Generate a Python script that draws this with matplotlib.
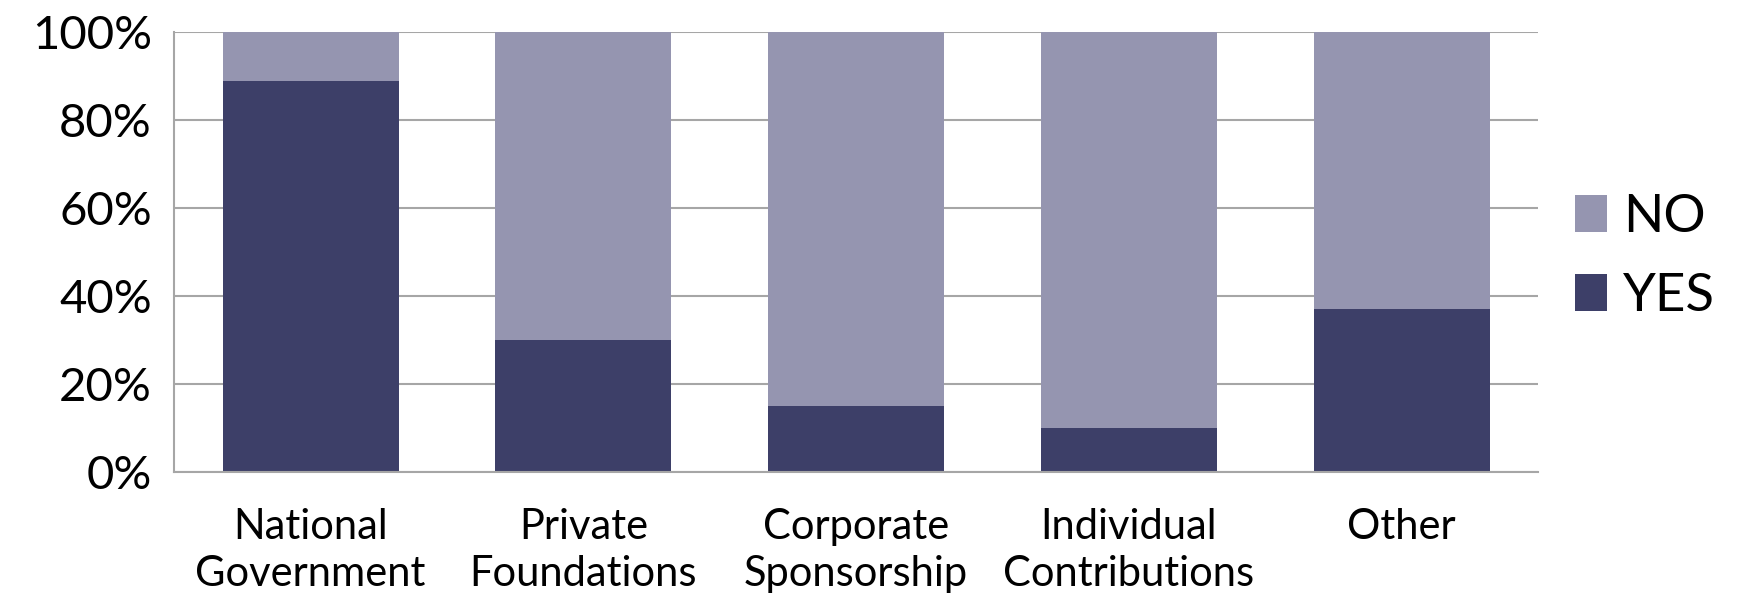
import matplotlib
matplotlib.use("Agg")
import matplotlib.pyplot as plt
import numpy as np
from matplotlib.ticker import PercentFormatter

categories = ["National\nGovernment", "Private\nFoundations", "Corporate\nSponsorship",
              "Individual\nContributions", "Other"]
yes_share = [89, 30, 15, 10, 37]
no_share = [100 - v for v in yes_share]

YES_COLOR = "#3D3F68"
NO_COLOR = "#9595B0"
GRID_COLOR = "#A6A6A6"

plt.rcParams["font.family"] = ["Lato", "DejaVu Sans"]

fig = plt.figure(figsize=(17.42, 5.98), dpi=100)
ax = fig.add_axes([0.100, 0.211, 0.783, 0.735])

x = np.arange(len(categories))
width = 0.645
ax.bar(x, yes_share, width, color=YES_COLOR, label="YES", zorder=2)
ax.bar(x, no_share, width, bottom=yes_share, color=NO_COLOR, label="NO", zorder=2)

ax.set_xlim(-0.5, len(categories) - 0.5)
ax.set_ylim(0, 100)
ax.set_yticks(range(0, 101, 20))
ax.yaxis.set_major_formatter(PercentFormatter(decimals=0))
ax.set_xticks(x)
ax.set_xticklabels(categories, fontsize=30, linespacing=1.3)
ax.tick_params(axis="y", labelsize=34, length=0, pad=16)
ax.tick_params(axis="x", length=0, pad=26)

ax.grid(axis="y", color=GRID_COLOR, linewidth=1.5, zorder=0)
for side in ["top", "right"]:
    ax.spines[side].set_visible(False)
for side in ["left", "bottom"]:
    ax.spines[side].set_color(GRID_COLOR)
    ax.spines[side].set_linewidth(1.5)

handles, labels = ax.get_legend_handles_labels()
fig.legend(handles[::-1], labels[::-1], loc="center left", bbox_to_anchor=(0.877, 0.57),
           frameon=False, fontsize=38, handlelength=0.6, handleheight=0.7,
           handletextpad=0.3, labelspacing=0.6)

fig.savefig("out.png", dpi=100)
